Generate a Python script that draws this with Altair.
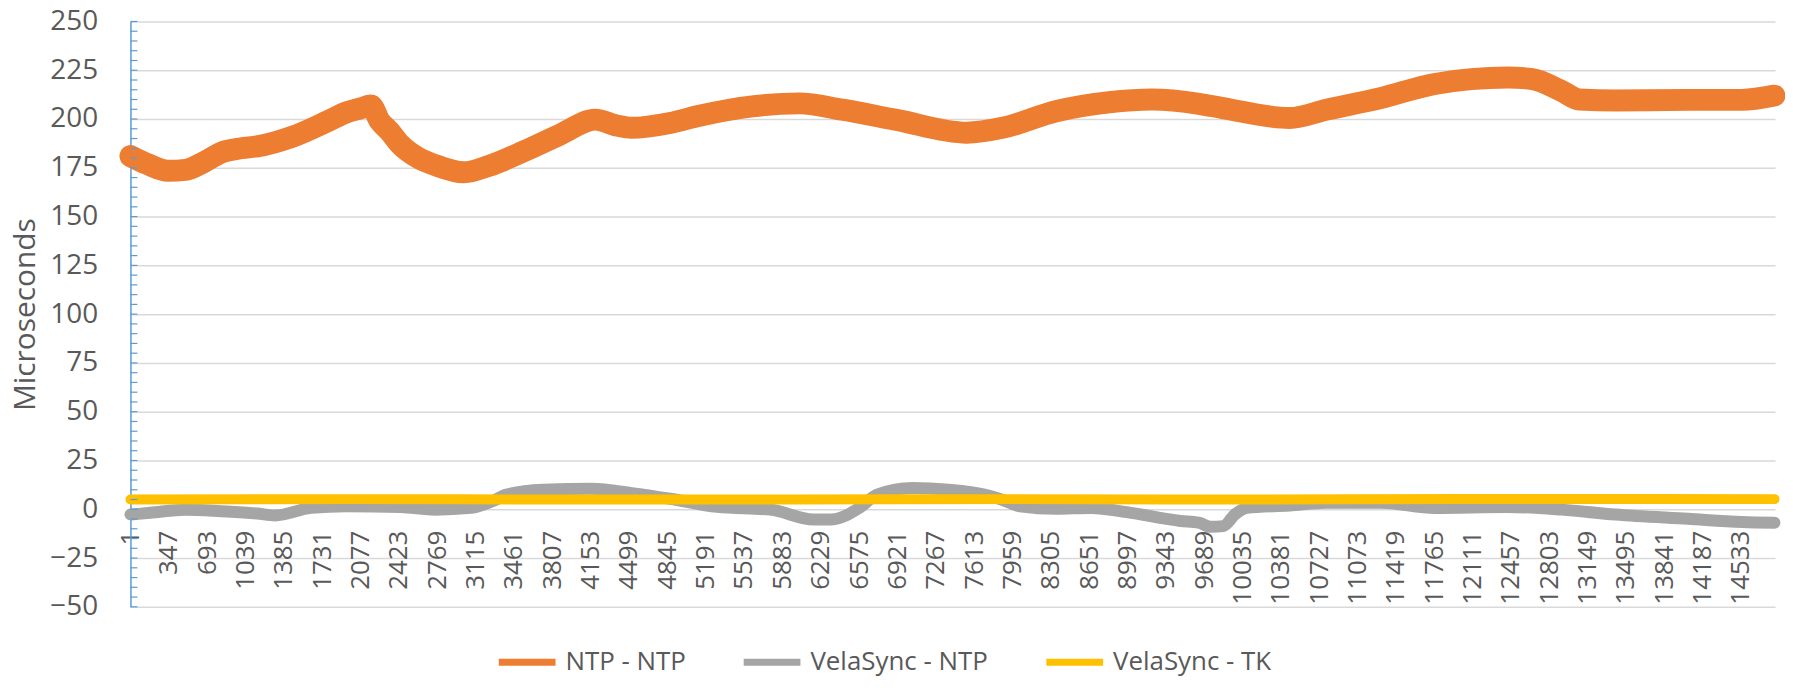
import altair as alt
import pandas as pd

SERIES = ["NTP - NTP", "VelaSync - NTP", "VelaSync - TK"]
COLORS = ["#ED7D31", "#A5A5A5", "#FFC000"]

# sample index (x) and value (microseconds)
ntp_idx = [1, 150, 340, 500, 660, 820, 1000, 1145, 1465, 1785, 1950, 2080, 2170, 2250,
           2335, 2435, 2600, 2750, 3010, 3235, 3560, 3875, 4195, 4400, 4520, 4870, 5135,
           5613, 6036, 6424, 6902, 7547, 7870, 8353, 8832, 9219, 9642, 9857, 10460, 10795,
           11280, 11770, 12425, 12650, 12910, 13075, 13400, 14055, 14540, 14835]
ntp_val = [181, 177, 173.5, 174, 177.8, 182.8, 185, 186, 191, 199, 203.4, 205.5, 207, 199,
           194, 187, 180, 176.4, 172.7, 176, 183.7, 192, 199.7, 196.5, 195.5, 198, 201.7,
           206.5, 208, 204.8, 199.7, 193, 195.5, 204, 208.6, 210, 207.8, 205.6, 200.5, 204.8,
           210.7, 218, 221.3, 220.5, 214.5, 210, 209.5, 209.8, 209.8, 212]

vs_ntp_idx = [1, 180, 500, 820, 1145, 1306, 1630, 1950, 2435, 2750, 3075, 3265, 3395, 3720,
              4168, 4525, 4870, 5294, 5775, 6165, 6326, 6577, 6738, 7060, 7384, 7706, 7866,
              8028, 8350, 8674, 8990, 9476, 9640, 9750, 9860, 9975, 10075, 10460, 10795,
              11280, 11770, 12425, 12915, 13400, 14055, 14540, 14835]
vs_ntp_val = [-2.7, -1.8, -0.2, -1, -2.2, -3.2, 0.7, 1.5, 1.2, -0.2, 0.7, 4.1, 7.5, 10,
              10.5, 8.3, 5.4, 1.2, -0.2, -5.2, -5.2, 0.7, 7.5, 10.9, 10, 7.5, 4.9,
              1.5, 0.2, 0.7, -1.5, -6, -6.9, -9, -8.6, -2.2, 0.7, 1.9, 3.3,
              3.3, 0.7, 1.2, -0.2, -2.7, -4.9, -6.5, -6.9]

vs_tk_idx = [1, 2000, 4000, 6000, 8000, 10000, 12000, 14835]
vs_tk_val = [5, 5.2, 5, 5, 5.2, 5, 5.3, 5.2]

x_tick_labels = [1, 347, 693, 1039, 1385, 1731, 2077, 2423, 2769, 3115, 3461, 3807, 4153,
                 4499, 4845, 5191, 5537, 5883, 6229, 6575, 6921, 7267, 7613, 7959, 8305,
                 8651, 8997, 9343, 9689, 10035, 10381, 10727, 11073, 11419, 11765, 12111,
                 12457, 12803, 13149, 13495, 13841, 14187, 14533]
y_ticks = [-50, -25, 0, 25, 50, 75, 100, 125, 150, 175, 200, 225, 250]
y_minor = list(range(-50, 251, 5))

rows = []
for name, xs, ys in [(SERIES[0], ntp_idx, ntp_val),
                     (SERIES[1], vs_ntp_idx, vs_ntp_val),
                     (SERIES[2], vs_tk_idx, vs_tk_val)]:
    for a, b in zip(xs, ys):
        rows.append({"series": name, "idx": a, "val": b})
df = pd.DataFrame(rows)

FONT = "Open Sans"
TXT = "#595959"
W, H = 1652, 588
Y0 = H * 250 / 300  # pixel position of value 0 from top

xenc = alt.X("idx:Q",
             scale=alt.Scale(domain=[1, 14840], nice=False, zero=False),
             axis=alt.Axis(values=x_tick_labels, format="d", title=None, grid=False,
                           domain=False, ticks=False, tickSize=0, labelAngle=270,
                           labelPadding=21, offset=-(H - Y0), labelFontSize=26,
                           labelFont=FONT, labelColor=TXT, labelOverlap=False,
                           labelFlush=False, labelBound=False))
yscale = alt.Scale(domain=[-50, 250], nice=False, zero=False)
yaxis = alt.Axis(values=y_ticks, title="Microseconds", titleFontSize=30,
                 titleFont=FONT, titleColor=TXT, titleFontWeight="normal",
                 titleX=-90, titleBaseline="bottom",
                 labelFontSize=28, labelFont=FONT, labelColor=TXT,
                 labelPadding=33, ticks=False, tickSize=0,
                 domainColor="#5B9BD5", domainWidth=1.5,
                 gridColor="#D9D9D9", gridWidth=1.5)
yenc = alt.Y("val:Q", scale=yscale, axis=yaxis)
cenc = alt.Color("series:N",
                 scale=alt.Scale(domain=SERIES, range=COLORS),
                 legend=alt.Legend(orient="none", legendX=366, legendY=611,
                                   direction="horizontal", title=None,
                                   symbolType="stroke", symbolSize=3250,
                                   symbolStrokeWidth=7, labelFontSize=26,
                                   labelFont=FONT, labelColor=TXT, labelOffset=6,
                                   columnPadding=43, labelLimit=400))

widths = [22, 12, 10]
layers = []
for name, sw in zip(SERIES, widths):
    layers.append(
        alt.Chart(df).transform_filter(alt.datum.series == name)
        .mark_line(strokeWidth=sw, interpolate="monotone", strokeJoin="round", strokeCap="round")
        .encode(x=xenc, y=yenc, color=cenc)
    )

ticks = alt.Chart(pd.DataFrame({"val": y_minor})).mark_rule(
    color="#5B9BD5", strokeWidth=1.2
).encode(y=yenc, x=alt.value(0), x2=alt.value(7))

chart = alt.layer(*layers, ticks).properties(
    width=W, height=H,
    autosize=alt.AutoSizeParams(type="none"),
    padding={"left": 123, "top": 12, "right": 10, "bottom": 80},
).configure(background="white").configure_view(stroke=None)

chart.save("out.html", embed_options={"renderer": "svg", "actions": False})
